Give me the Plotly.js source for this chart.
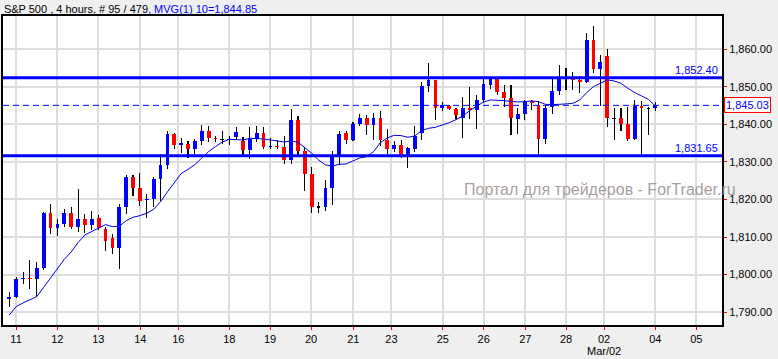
<!DOCTYPE html>
<html>
<head>
<meta charset="utf-8">
<script src="https://cdn.plot.ly/plotly-3.0.1.min.js"></script>
<style>html,body{margin:0;padding:0;background:#efefef;}#chart{width:778px;height:359px;}</style>
</head>
<body>
<div id="chart"></div>
<script>
// ---- data ----
const openP = [1793.53,1793.98,1799.00,1799.10,1798.85,1801.87,1816.41,1812.51,1813.57,1816.41,
1812.68,1814.81,1813.30,1814.99,1812.24,1809.85,1807.19,1818.00,1825.98,1823.06,
1819.95,1820.13,1825.45,1829.26,1837.51,1834.58,1834.76,1833.52,1835.65,1838.22,
1836.30,1835.91,1836.00,1836.62,1835.47,1833.25,1836.18,1837.69,1834.10,1834.20,
1833.87,1830.59,1841.14,1832.90,1826.78,1818.00,1818.00,1823.15,1831.74,1837.60,
1835.82,1840.17,1841.67,1839.90,1841.67,1835.91,1833.52,1834.41,1831.83,1833.52,
1837.69,1850.19,1851.78,1844.42,1844.96,1844.07,1841.67,1844.33,1843.80,1846.46,
1850.36,1852.14,1848.59,1847.08,1841.41,1842.83,1846.20,1845.22,1836.00,1844.51,
1848.86,1852.40,1852.40,1851.78,1851.25,1862.42,1854.80,1858.17,1841.50,1841.68,
1840.08,1836.00,1844.87,1844.16,1844.25];
const closeP = [1794.16,1798.85,1799.10,1799.00,1801.69,1816.41,1812.51,1813.48,1816.41,1812.68,
1814.81,1813.30,1814.81,1812.51,1809.05,1807.19,1818.00,1825.98,1823.14,1819.69,
1820.10,1825.45,1829.17,1837.51,1834.58,1835.11,1833.52,1835.56,1838.22,1836.44,
1836.10,1835.91,1836.10,1837.95,1833.25,1836.18,1837.69,1833.96,1834.20,1834.10,
1830.59,1841.14,1832.99,1826.78,1818.00,1818.00,1823.06,1831.66,1837.51,1835.91,
1840.08,1841.67,1839.90,1841.67,1835.91,1833.52,1834.41,1831.83,1833.70,1836.89,
1850.19,1851.78,1844.42,1845.13,1844.07,1842.47,1844.33,1843.80,1846.46,1850.81,
1852.14,1848.59,1847.08,1841.59,1842.83,1846.20,1845.75,1836.00,1844.42,1848.86,
1852.49,1852.40,1851.87,1851.25,1862.42,1854.80,1856.57,1841.77,1841.50,1840.17,
1836.09,1844.87,1844.25,1844.16,1845.03];
const highP = [1795.40,1799.47,1800.72,1803.82,1803.37,1816.67,1818.80,1814.81,1817.47,1818.00,
1822.79,1816.23,1816.94,1815.79,1812.68,1810.82,1818.80,1826.51,1826.51,1827.05,
1821.46,1825.89,1832.10,1838.22,1837.68,1836.44,1835.65,1836.00,1839.81,1839.55,
1836.98,1838.31,1836.89,1839.19,1836.62,1839.28,1839.46,1839.28,1836.44,1835.82,
1836.80,1843.98,1842.29,1833.96,1828.64,1819.24,1825.10,1832.99,1838.31,1838.31,
1840.61,1842.83,1842.47,1843.01,1843.54,1838.75,1835.47,1835.91,1833.87,1839.55,
1851.34,1856.30,1851.87,1846.02,1845.00,1844.33,1847.35,1850.01,1847.88,1852.31,
1852.31,1852.31,1850.54,1850.54,1844.25,1846.46,1846.46,1846.20,1845.22,1852.31,
1855.77,1855.06,1853.82,1852.85,1864.37,1866.14,1858.52,1859.94,1844.34,1844.34,
1844.69,1846.46,1846.20,1844.51,1845.84];
const lowP = [1791.50,1793.71,1797.61,1796.28,1794.16,1801.25,1810.91,1810.38,1812.77,1812.15,
1811.35,1811.09,1811.97,1811.97,1806.39,1805.59,1801.60,1816.23,1821.02,1818.27,
1815.17,1817.91,1819.69,1828.11,1833.43,1832.45,1831.12,1832.10,1834.49,1835.38,
1835.29,1834.76,1834.49,1835.74,1831.83,1830.86,1835.29,1833.52,1833.34,1833.34,
1829.35,1829.35,1831.83,1822.35,1816.50,1816.50,1817.03,1818.45,1829.26,1834.76,
1835.65,1839.46,1837.24,1835.73,1834.14,1832.01,1832.63,1830.95,1828.47,1832.72,
1835.91,1848.68,1841.14,1843.63,1843.80,1841.41,1836.44,1841.41,1838.84,1845.66,
1849.48,1847.79,1844.69,1837.24,1837.51,1841.23,1843.89,1831.84,1834.76,1842.74,
1847.71,1849.03,1849.12,1848.41,1850.90,1853.73,1844.87,1839.28,1835.83,1838.22,
1835.56,1835.83,1831.84,1837.15,1843.63];
const maP = [1789.28,1791.50,1792.47,1793.27,1794.16,1796.64,1799.21,1801.69,1804.08,1806.03,
1808.52,1810.56,1811.44,1812.51,1813.30,1812.77,1812.86,1814.37,1815.25,1815.70,
1816.32,1817.38,1819.42,1821.99,1824.47,1826.87,1828.02,1829.26,1831.04,1832.72,
1834.05,1835.29,1836.00,1836.00,1835.82,1836.27,1836.27,1836.09,1835.82,1835.65,
1835.29,1835.56,1835.20,1833.78,1832.28,1830.50,1829.17,1828.91,1829.35,1829.44,
1830.33,1831.04,1831.39,1832.72,1835.12,1836.36,1837.07,1836.98,1836.53,1836.89,
1838.31,1838.93,1839.19,1839.72,1840.43,1841.23,1842.21,1843.63,1844.87,1845.93,
1846.46,1846.46,1846.29,1846.11,1845.93,1846.02,1846.20,1846.02,1845.31,1845.22,
1845.22,1845.40,1845.58,1846.46,1848.41,1850.01,1850.90,1851.78,1851.52,1850.90,
1849.57,1848.41,1847.53,1846.64,1844.85];
const tickPos = [0.98,6.98,12.95,19.06,24.59,32.01,37.94,43.9,50.06,55.6,63.07,69.03,75.09,81.01,86.54,94.0,99.97];
const tickText = ['11','12','13','14','16','18','19','20','21','23','25','26','27','28','02','04','05'];
const yTicks = [1790,1800,1810,1820,1830,1840,1850,1860];
const levels = [1852.40, 1831.65];
const levelText = ['1,852.40','1,831.65'];
const lastPrice = 1845.03;
const lastPriceText = '1,845.03';
const monthLabel = 'Mar/02';
const monthLabelPos = 86.54;
const titleMain = 'S&P 500 , 4 hours, # 95 / 479';
const titleMa = ', MVG(1) 10=1,844.85';
const watermark = 'Портал для трейдеров - ForTrader.ru';

// ---- build ----
const idx = openP.map((_, i) => i);
const minBody = 0.3;
const bodyBase = [], bodyH = [], bodyCol = [];
for (let i = 0; i < openP.length; i++) {
  const lo = Math.min(openP[i], closeP[i]), hi = Math.max(openP[i], closeP[i]);
  let h = hi - lo, b = lo;
  if (h < minBody) { b = (hi + lo) / 2 - minBody / 2; h = minBody; }
  bodyBase.push(b); bodyH.push(h);
  bodyCol.push(closeP[i] > openP[i] ? '#0000ff' : (closeP[i] < openP[i] ? '#ff0000' : '#000000'));
}
const wickH = highP.map((h, i) => h - lowP[i]);

const font = 'Arial, "Liberation Sans", sans-serif';
const traces = [
  {type:'bar', x: idx, base: lowP, y: wickH, width: 0.16, marker:{color:'#000000', line:{width:0}}, hoverinfo:'skip'},
  {type:'bar', x: idx, base: bodyBase, y: bodyH, width: 0.55, marker:{color: bodyCol, line:{width:0}}, hoverinfo:'skip'},
  {type:'scatter', mode:'lines', x: idx, y: maP, line:{color:'#0000dd', width:1}, hoverinfo:'skip'}
];

const shapes = [];
levels.forEach(l => shapes.push({type:'line', xref:'paper', x0:0, x1:1, yref:'y', y0:l, y1:l, line:{color:'#0000ff', width:3}}));
shapes.push({type:'line', xref:'paper', x0:0, x1:1, yref:'y', y0:lastPrice, y1:lastPrice, line:{color:'#0000ff', width:1, dash:'6px,4px'}});

const annotations = [];
levels.forEach((l, k) => annotations.push({xref:'paper', x:1, xanchor:'right', xshift:-2, yref:'y', y:l, yanchor:'bottom', yshift:0,
  text: levelText[k], showarrow:false, font:{family:font, size:11, color:'#0000ff'}}));
annotations.push({xref:'paper', x:1, xanchor:'left', xshift:2, yref:'y', y:lastPrice, yanchor:'middle',
  text:lastPriceText, showarrow:false, font:{family:font, size:11, color:'#0000ff'}, bordercolor:'#ff0000', borderwidth:1, borderpad:1, bgcolor:'#ffffff'});
annotations.push({xref:'x', x: monthLabelPos, yref:'paper', y:0, yanchor:'top', yshift:-18, text: monthLabel, showarrow:false,
  font:{family:font, size:11, color:'#000000'}});
annotations.push({xref:'paper', x:0.638, xanchor:'left', yref:'paper', y:0.437, yanchor:'middle', text: watermark, showarrow:false,
  font:{family:font, size:16, color:'rgba(150,140,140,0.85)'}});

const layout = {
  width: 778, height: 359,
  paper_bgcolor:'#efefef', plot_bgcolor:'#ffffff',
  margin:{l:3, r:56, t:16, b:34},
  showlegend:false, barmode:'overlay', bargap:0,
  title:{text: titleMain + '<span style="color:#0000ff">' + titleMa + '</span>', xref:'container', x:0.005, xanchor:'left', yref:'container', y:0.975, yanchor:'middle',
    font:{family:font, size:11, color:'#000000'}},
  xaxis:{range:[-0.92, 103.7], tickmode:'array', tickvals: tickPos, ticktext: tickText, ticks:'outside', ticklen:3, tickcolor:'#ff0000', tickwidth:1,
    showgrid:true, gridcolor:'#dcdcdc', gridwidth:2, zeroline:false, showline:true, linecolor:'#000000', linewidth:2, mirror:true,
    tickfont:{family:font, size:11, color:'#000000'}, fixedrange:true},
  yaxis:{side:'right', range:[1786.6, 1868.8], tickmode:'array', tickvals: yTicks, tickformat:',.2f', ticks:'outside', ticklen:3, tickcolor:'#ff0000', tickwidth:1,
    showgrid:true, gridcolor:'#dcdcdc', gridwidth:2, zeroline:false, showline:true, linecolor:'#000000', linewidth:2, mirror:true,
    tickfont:{family:font, size:11, color:'#000000'}, fixedrange:true},
  shapes: shapes, annotations: annotations
};
Plotly.newPlot('chart', traces, layout, {displayModeBar:false, staticPlot:true});
</script>
</body>
</html>
